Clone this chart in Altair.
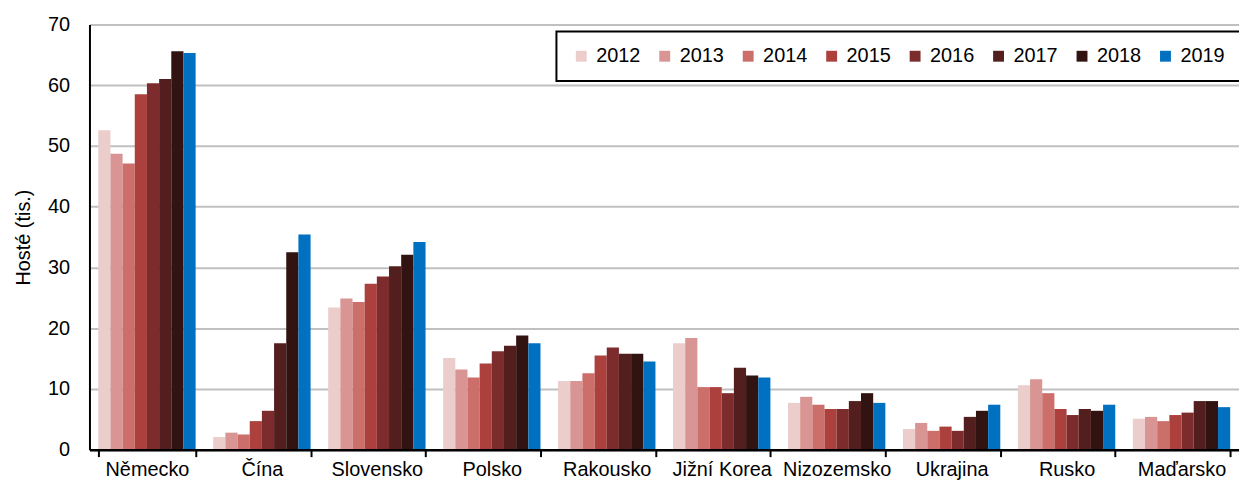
import altair as alt
import pandas as pd

countries = ["Německo", "Čína", "Slovensko", "Polsko", "Rakousko",
             "Jižní Korea", "Nizozemsko", "Ukrajina", "Rusko", "Maďarsko"]
years = ["2012", "2013", "2014", "2015", "2016", "2017", "2018", "2019"]
colors = ["#EBCDCB", "#D99593", "#CC6E6A", "#AC403C", "#7D2C2D", "#531E1E", "#311311", "#0070C0"]

v2012 = [52.6, 2.1, 23.4, 15.1, 11.3, 17.5, 7.7, 3.4, 10.6, 5.1]
v2013 = [48.7, 2.8, 24.9, 13.2, 11.3, 18.4, 8.7, 4.4, 11.6, 5.4]
v2014 = [47.1, 2.5, 24.3, 11.9, 12.6, 10.3, 7.4, 3.1, 9.3, 4.7]
v2015 = [58.5, 4.7, 27.3, 14.2, 15.5, 10.3, 6.7, 3.8, 6.7, 5.7]
v2016 = [60.3, 6.4, 28.5, 16.2, 16.8, 9.3, 6.7, 3.1, 5.7, 6.1]
v2017 = [61.0, 17.5, 30.2, 17.1, 15.8, 13.5, 8.0, 5.4, 6.7, 8.0]
v2018 = [65.6, 32.5, 32.1, 18.8, 15.8, 12.2, 9.3, 6.4, 6.4, 8.0]
v2019 = [65.3, 35.4, 34.2, 17.5, 14.5, 11.9, 7.7, 7.4, 7.4, 7.0]

series = [v2012, v2013, v2014, v2015, v2016, v2017, v2018, v2019]
rows = []
for y, vals in zip(years, series):
    for c, v in zip(countries, vals):
        rows.append({"Země": c, "Rok": y, "Hosté": v})
df = pd.DataFrame(rows)

FONT = "Liberation Sans"

chart = alt.Chart(df).mark_bar().encode(
    x=alt.X("Země:N", sort=countries, title=None,
            scale=alt.Scale(paddingInner=0.153, paddingOuter=0.0765),
            axis=alt.Axis(labelAngle=0, tickBand="extent", labelOverlap=False,
                          domainColor="black", domainWidth=2.5, zindex=1,
                          tickColor="black", tickWidth=2, tickSize=7,
                          labelPadding=3, labelFontSize=20, labelColor="black",
                          labelFont=FONT, grid=False)),
    xOffset=alt.XOffset("Rok:N", sort=years),
    y=alt.Y("Hosté:Q", title="Hosté (tis.)",
            scale=alt.Scale(domain=[0, 70], nice=False),
            axis=alt.Axis(values=[0, 10, 20, 30, 40, 50, 60, 70], ticks=False,
                          labelPadding=20, labelFontSize=20, labelColor="black",
                          labelFont=FONT, titleFont=FONT, titleFontSize=20,
                          titleFontWeight="normal", titleColor="black",
                          titlePadding=14, domainColor="black", domainWidth=2,
                          gridColor="#C0C0C0", gridWidth=2)),
    color=alt.Color("Rok:N", sort=years,
                    scale=alt.Scale(domain=years, range=colors),
                    legend=alt.Legend(title=None, orient="none", legendX=470, legendY=7,
                                      direction="horizontal", columns=8,
                                      symbolType="square", symbolSize=120,
                                      symbolStrokeWidth=0, labelFontSize=20,
                                      labelFont=FONT, labelColor="black",
                                      labelOffset=5, columnPadding=14,
                                      padding=15, strokeColor="black",
                                      fillColor="white")),
).properties(
    width=1157, height=428,
    autosize=alt.AutoSizeParams(type="none"),
    padding={"left": 82, "top": 15, "right": 0, "bottom": 31},
).configure_view(stroke=None).configure_legend(strokeWidth=2)

chart.save("out.html", embed_options={"renderer": "svg", "actions": False})
